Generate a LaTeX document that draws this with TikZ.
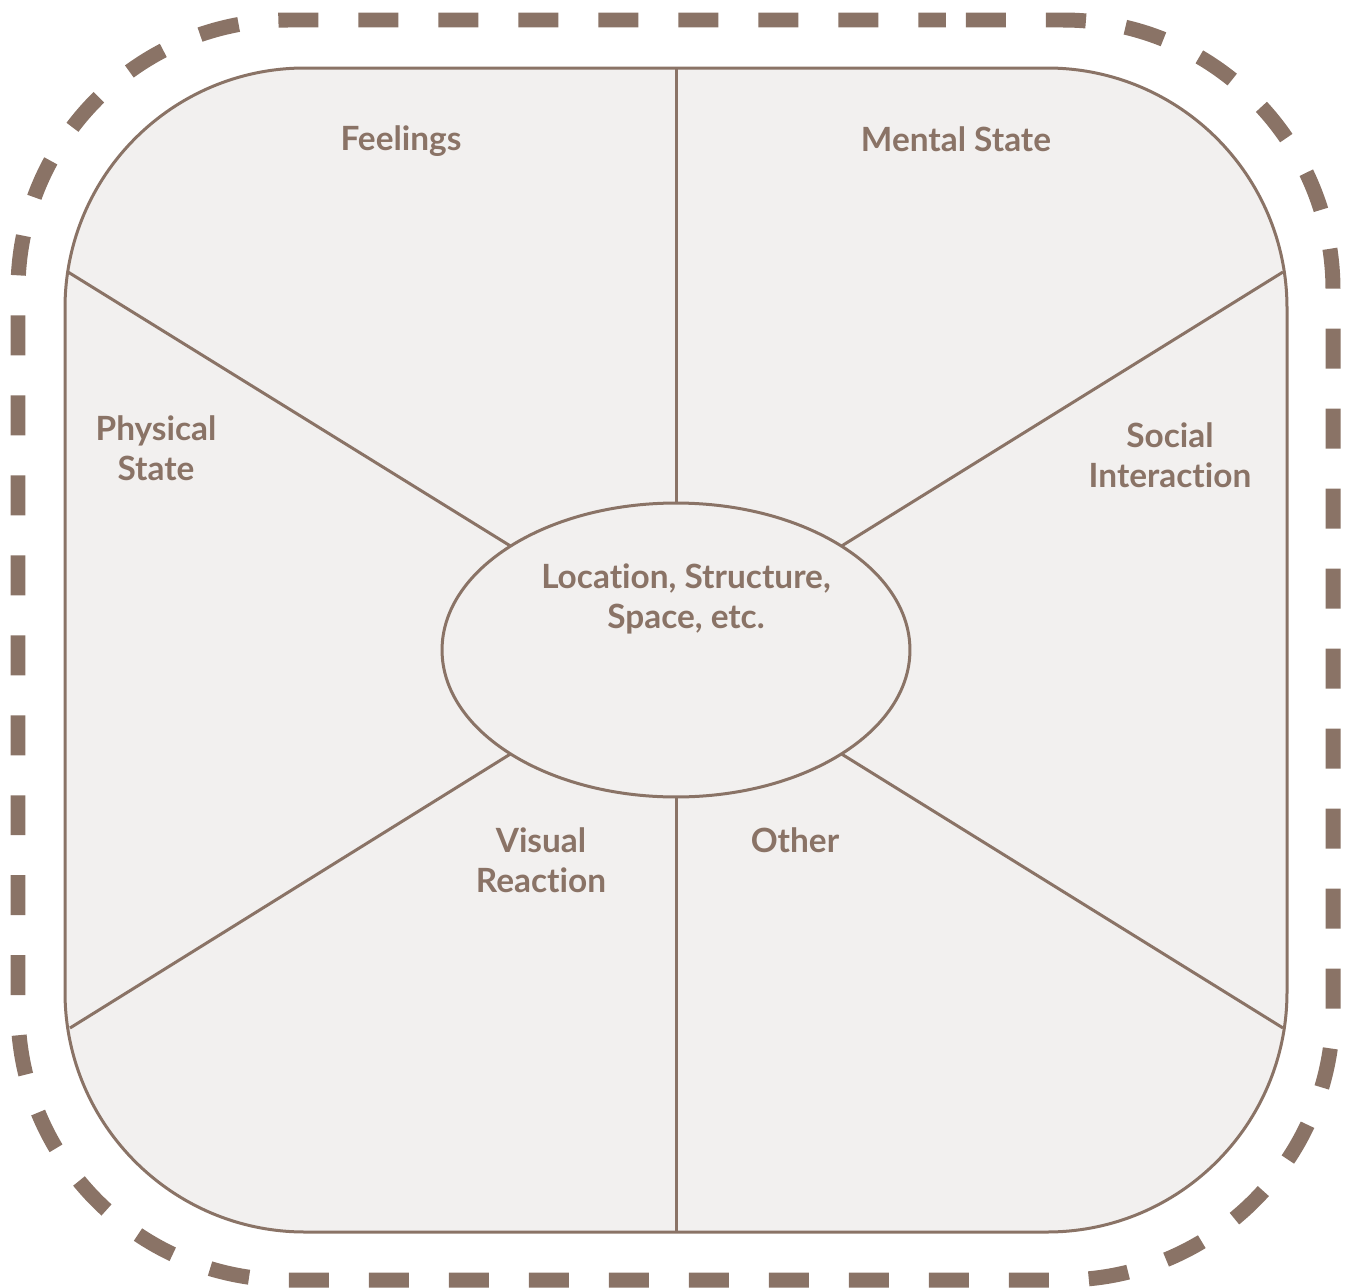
\documentclass[tikz,border=0pt]{standalone}
\usepackage{fontspec}
\setmainfont{Lato}[Ligatures=NoCommon]
\usetikzlibrary{shapes.geometric}
\definecolor{mocha}{RGB}{138,115,102}
\definecolor{paper}{RGB}{242,240,239}

\begin{document}
\begin{tikzpicture}[x=0.02cm, y=-0.02cm,
    frame/.style={draw=mocha, line width=0.3cm, dash pattern=on 0.8cm off 0.8cm, dash phase=1.2cm, rounded corners=5.4cm},
    board/.style={draw=mocha, fill=paper, line width=0.06cm, rounded corners=4.8cm},
    spoke/.style={draw=mocha, line width=0.06cm},
    label/.style={text=mocha, font=\bfseries\fontsize{19}{22.7}\selectfont, align=center}]
    \useasboundingbox (0,0) rectangle (1350,1288);

    % Dashed outer frame and the board
    \draw[frame] (676,20) -- (1333,20) -- (1333,1280) -- (18,1280) -- (18,20) -- cycle;
    \draw[board] (65,68) rectangle (1287,1232);

    % Hub in the middle
    \node[ellipse, spoke, fill=paper, minimum width=9.36cm, minimum height=5.88cm, inner sep=0pt, outer sep=0pt] (hub) at (676,650) {};

    % Points on the board edge
    \coordinate (top) at (676,68);
    \coordinate (bottom) at (676,1232);
    \coordinate (ul) at (68,272);
    \coordinate (ur) at (1283,272);
    \coordinate (ll) at (70,1028);
    \coordinate (lr) at (1283,1028);

    % Spokes
    \draw[spoke] (hub.north) -- (top);
    \draw[spoke] (hub.south) -- (bottom);
    \draw[spoke] (hub.north west) -- (ul);
    \draw[spoke] (hub.north east) -- (ur);
    \draw[spoke] (hub.south west) -- (ll);
    \draw[spoke] (hub.south east) -- (lr);

    % Labels
    \node[label] (feelings) at (401,141) {Feelings};
    \node[label] (mental) at (956,139) {Mental State};
    \node[label] (physical) at (156,448) {Physical\\State};
    \node[label] (social) at (1170,455) {Social\\Interaction};
    \node[label] (place) at (686,599) {Location, Structure,\\Space, etc.};
    \node[label] (visual) at (541,860) {Visual\\Reaction};
    \node[label] (other) at (795,840) {Other};
\end{tikzpicture}
\end{document}
